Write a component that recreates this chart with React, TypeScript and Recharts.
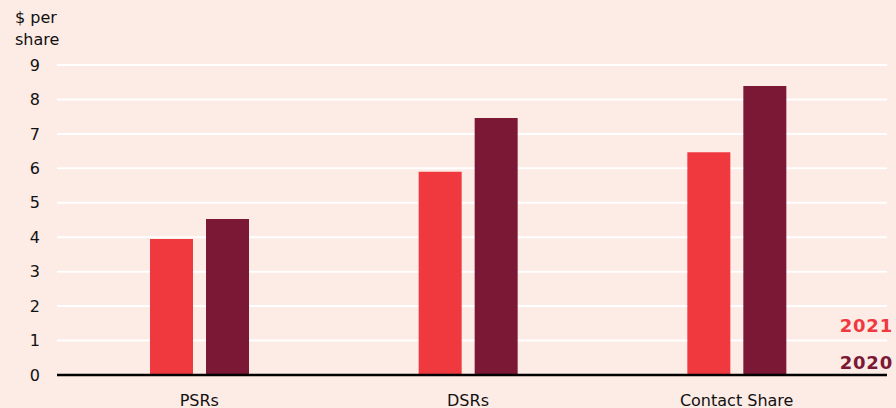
import { BarChart, Bar, XAxis, YAxis, CartesianGrid } from 'recharts'

const categories = ['PSRs', 'DSRs', 'Contact Share']
const values2021 = [3.95, 5.9, 6.47]
const values2020 = [4.53, 7.46, 8.39]
const yTicks = [0, 1, 2, 3, 4, 5, 6, 7, 8, 9]
const years = ['2021', '2020']

const BG = '#fdebe5'
const RED = '#f0393f'
const WINE = '#7a1836'
const FONT = '"DejaVu Sans", sans-serif'

const data = categories.map((name, i) => ({
  name,
  y2021: values2021[i],
  y2020: values2020[i],
}))

export default function App() {
  return (
    <div style={{ position: 'fixed', left: 0, top: 0, width: 896, height: 408, background: BG, fontFamily: FONT }}>
      <div style={{ position: 'absolute', left: 15, top: 7, fontSize: 16, lineHeight: '22px', color: '#111' }}>
        $ per<br />share
      </div>
      <BarChart
        width={896}
        height={408}
        data={data}
        margin={{ top: 65, right: 9, bottom: 0, left: 0 }}
        barSize={43}
        barGap={13}
      >
        <CartesianGrid vertical={false} stroke="#ffffff" strokeWidth={2} />
        <XAxis
          dataKey="name"
          height={33}
          padding={{ left: 8, right: 16 }}
          tickLine={false}
          axisLine={{ stroke: '#000', strokeWidth: 2.5 }}
          tick={{ fill: '#111', fontSize: 16, fontFamily: FONT }}
          tickMargin={14}
        />
        <YAxis
          width={57}
          domain={[0, 9]}
          ticks={yTicks}
          interval={0}
          tickLine={false}
          axisLine={false}
          tickSize={0}
          tickMargin={17}
          tick={{ fill: '#111', fontSize: 16, fontFamily: FONT }}
        />
        <Bar dataKey="y2021" fill={RED} isAnimationActive={false} />
        <Bar dataKey="y2020" fill={WINE} isAnimationActive={false} />
      </BarChart>
      {/* year key, stacked above the baseline at the right edge */}
      <div style={{ position: 'absolute', right: 3, top: 307, fontWeight: 700, fontSize: 18, textAlign: 'right', letterSpacing: 0.8 }}>
        {years.map((y, i) => (
          <div key={y} style={{ color: i === 0 ? RED : WINE, lineHeight: '37px' }}>{y}</div>
        ))}
      </div>
    </div>
  )
}
